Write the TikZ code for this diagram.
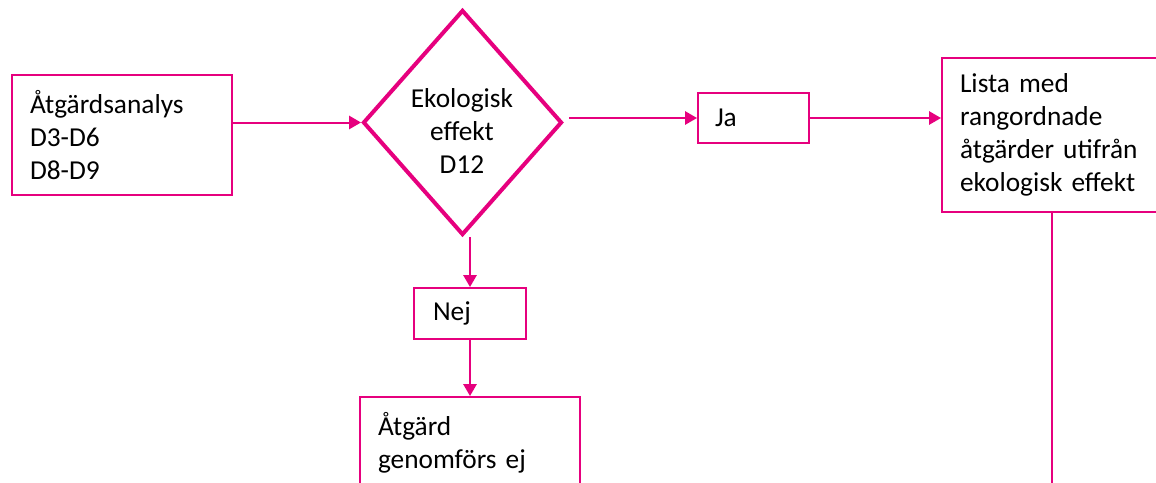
\documentclass[tikz,border=0pt]{standalone}
\usepackage{fontspec}
\setmainfont{Carlito}
\usetikzlibrary{shapes.geometric,arrows.meta}
\definecolor{pinkc}{RGB}{230,0,126}
\begin{document}
\begin{tikzpicture}[x=0.75pt,y=-0.75pt,
  every node/.style={font=\fontsize{20.5pt}{24.75pt}\selectfont, text=black},
  boxnode/.style={draw=pinkc, line width=1.5pt, fill=white, inner sep=0pt, align=left},
  conn/.style={draw=pinkc, line width=1.5pt, -{Triangle[length=9pt,width=10pt]}},
  plain/.style={draw=pinkc, line width=1.5pt}]
\useasboundingbox (0,0) rectangle (1156,482);
\clip (0,0) rectangle (1156,482);
\fill[white] (0,0) rectangle (1156,482);

\node[boxnode, minimum width=165pt, minimum height=90pt, text width=138pt] (b1) at (122,135)
  {Åtgärdsanalys\\D3-D6\\D8-D9};
\node[draw=pinkc, line width=3pt, shape=diamond, inner sep=0pt, minimum width=149.25pt, minimum height=168.75pt] (d) at (462.5,122.5) {};
\node[align=center, inner sep=0pt] (dt) at (462,131) {Ekologisk\\effekt\\D12};
\node[boxnode, minimum width=83.25pt, minimum height=37.5pt, text width=57.75pt] (ja) at (753.5,118) {Ja};
\node[boxnode, minimum width=171pt, minimum height=115.5pt, text width=144pt] (lista) at (1056,135)
  {Lista med\\rangordnade\\åtgärder utifrån\\ekologisk effekt};
\node[boxnode, minimum width=84pt, minimum height=38.25pt, text width=55.5pt] (nej) at (470,313.5) {Nej};
\node[boxnode, minimum width=165pt, minimum height=69pt, text width=138pt] (atg) at (470,443)
  {Åtgärd\\genomförs ej};
\coordinate (lend) at (1052,490);

\draw[conn] (b1.east |- d.west) -- (d.west);
\draw[conn] ([xshift=3.75pt]d.east |- ja.west) -- (ja.west);
\draw[conn] (ja.east) -- (ja.east -| lista.west);
\draw[plain] (lista.south -| lend) -- (lend);
\draw[conn] (d.south -| nej.north) -- (nej.north);
\draw[conn] (nej.south) -- (atg.north);
\end{tikzpicture}
\end{document}
